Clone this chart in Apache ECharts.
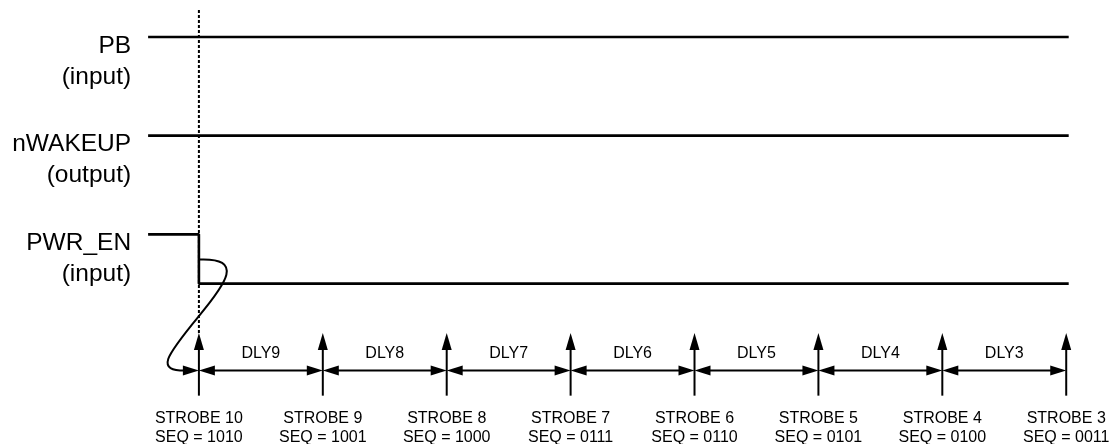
<!DOCTYPE html>
<html>
<head>
<meta charset="utf-8">
<script src="https://cdn.jsdelivr.net/npm/echarts@6/dist/echarts.min.js"></script>
<style>
	html,body{margin:0;padding:0;background:#fff;}
	#timing{width:1115px;height:444px;}
</style>
</head>
<body>
<div id="timing"></div>
<script>
// x = time in DLY steps (strobe 10 at 0), y = signal level units
const strobeNames = ['STROBE 10','STROBE 9','STROBE 8','STROBE 7','STROBE 6','STROBE 5','STROBE 4','STROBE 3'];
const seqCodes = ['1010','1001','1000','0111','0110','0101','0100','0011'];
const strobeTimes = [0,1,2,3,4,5,6,7];
const delayNames = ['DLY9','DLY8','DLY7','DLY6','DLY5','DLY4','DLY3'];

const signalNames = ['PB','nWAKEUP','PWR_EN'];
const signalDirs = ['(input)','(output)','(input)'];
const signalHigh = [6,4,2];

const pbWave = [[-0.41,6],[7.02,6]];
const nWakeupWave = [[-0.41,4],[7.02,4]];
const pwrEnWave = [[-0.41,2],[0,2],[0,1],[7.02,1]];

const markerLine = [[0,0],[0,6.55]];
// two cubic segments: start, cp, cp, mid, cp, cp, end
const causalCurve = [[0,1.49],[0.372,1.531],[0.219,1.005],[0,0.344],[-0.274,-0.491],[-0.354,-0.775],[0,-0.76]];

const arrowTip = 0;
const arrowBase = -1.27;
const delayLevel = -0.76;

const FONT = 'Liberation Sans, Arial, sans-serif';
const black = '#000';

function upArrow(x, yTip, yBase){
	return [
		{type:'line',shape:{x1:x,y1:yBase,x2:x,y2:yTip+8},style:{stroke:black,lineWidth:2}},
		{type:'polygon',shape:{points:[[x,yTip],[x-5,yTip+17],[x+5,yTip+17]]},style:{fill:black}}
	];
}

const myChart = echarts.init(document.getElementById('timing'));
const wave = (name, data) => ({
	name:name, type:'line', data:data, symbol:'none', silent:true, z:3,
	lineStyle:{color:black,width:2.6}
});

const option = {
	animation:false,
	grid:{left:75,right:24,top:0,bottom:-1},
	xAxis:{type:'value',min:-1,max:7.2,show:false},
	yAxis:{type:'value',min:-2.25,max:6.75,show:false},
	series:[
		wave('PB',pbWave),
		wave('nWAKEUP',nWakeupWave),
		wave('PWR_EN',pwrEnWave),
		{
			type:'line', data:markerLine, symbol:'none', silent:true, z:2,
			lineStyle:{color:black,width:2,type:[3,2]}
		},
		{
			// signal names on the left
			type:'custom', silent:true,
			data:signalHigh.map((v,i)=>[-0.41,v,i]),
			renderItem(params, api){
				const p = api.coord([api.value(0), api.value(1)]);
				const i = api.value(2);
				const st = {fill:black,fontSize:24.5,fontFamily:FONT,align:'right',verticalAlign:'middle'};
				return {type:'group',children:[
					{type:'text',style:Object.assign({},st,{text:signalNames[i],x:p[0]-17,y:p[1]+9})},
					{type:'text',style:Object.assign({},st,{text:signalDirs[i],x:p[0]-17,y:p[1]+40})}
				]};
			}
		},
		{
			// strobe arrows and labels
			type:'custom', silent:true,
			data:strobeTimes.map((t,i)=>[t,0,i]),
			renderItem(params, api){
				const t = api.value(0), i = api.value(2);
				const tip = api.coord([t, arrowTip]);
				const base = api.coord([t, arrowBase]);
				const kids = upArrow(tip[0], tip[1], base[1]);
				kids.push({type:'text',style:{
					text:strobeNames[i]+'\nSEQ = '+seqCodes[i],
					x:tip[0], y:base[1]+32.5, fill:black, fontSize:16, fontFamily:FONT,
					align:'center', verticalAlign:'middle', lineHeight:19
				}});
				return {type:'group',children:kids};
			}
		},
		{
			// delay spans
			type:'custom', silent:true,
			data:delayNames.map((d,i)=>[strobeTimes[i],strobeTimes[i+1],i]),
			renderItem(params, api){
				const a = api.coord([api.value(0), delayLevel]);
				const b = api.coord([api.value(1), delayLevel]);
				const y = a[1];
				return {type:'group',children:[
					{type:'line',shape:{x1:a[0]+8,y1:y,x2:b[0]-8,y2:y},style:{stroke:black,lineWidth:2}},
					{type:'polygon',shape:{points:[[a[0],y],[a[0]+16,y-5],[a[0]+16,y+5]]},style:{fill:black}},
					{type:'polygon',shape:{points:[[b[0],y],[b[0]-16,y-5],[b[0]-16,y+5]]},style:{fill:black}},
					{type:'text',style:{text:delayNames[api.value(2)],x:(a[0]+b[0])/2,y:y-17,
						fill:black,fontSize:16,fontFamily:FONT,align:'center',verticalAlign:'middle'}}
				]};
			}
		},
		{
			// PWR_EN falling edge -> strobe 10 causality curve
			type:'custom', silent:true,
			data:[[0,0]],
			renderItem(params, api){
				const c = causalCurve.map(p => api.coord(p));
				const end = c[6];
				const cs = {stroke:black,lineWidth:2,fill:null};
				return {type:'group',children:[
					{type:'bezierCurve',shape:{x1:c[0][0],y1:c[0][1],cpx1:c[1][0],cpy1:c[1][1],cpx2:c[2][0],cpy2:c[2][1],x2:c[3][0],y2:c[3][1]},style:cs},
					{type:'bezierCurve',shape:{x1:c[3][0],y1:c[3][1],cpx1:c[4][0],cpy1:c[4][1],cpx2:c[5][0],cpy2:c[5][1],x2:end[0]-12,y2:end[1]},style:cs},
					{type:'polygon',shape:{points:[[end[0],end[1]],[end[0]-16,end[1]-5],[end[0]-16,end[1]+5]]},style:{fill:black}}
				]};
			}
		}
	]
};
myChart.setOption(option);
</script>
</body>
</html>
